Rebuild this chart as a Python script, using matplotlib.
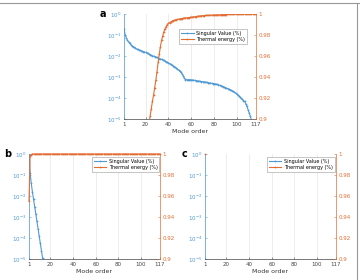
import matplotlib
matplotlib.use("Agg")
import matplotlib.pyplot as plt
import numpy as np

BLUE = "#4e9ad6"
ORANGE = "#e36d33"

# ---- panel a ----
sv_a_modes = list(range(1, 118))
sv_a_log10 = [
    -0.70, -0.98, -1.14, -1.25, -1.33, -1.40, -1.46, -1.51, -1.55, -1.59,
    -1.62, -1.66, -1.69, -1.71, -1.73, -1.75, -1.77, -1.79, -1.81, -1.83,
    -1.85, -1.88, -1.91, -1.94, -1.97, -1.99, -2.01, -2.03, -2.05, -2.07,
    -2.09, -2.12, -2.14, -2.16, -2.19, -2.21, -2.24, -2.27, -2.30, -2.33,
    -2.36, -2.39, -2.43, -2.46, -2.50, -2.54, -2.58, -2.62, -2.67, -2.72,
    -2.78, -2.85, -2.93, -3.05, -3.12, -3.13, -3.13, -3.13, -3.13, -3.14,
    -3.14, -3.15, -3.16, -3.17, -3.18, -3.19, -3.20, -3.21, -3.22, -3.22,
    -3.23, -3.24, -3.25, -3.26, -3.27, -3.28, -3.29, -3.30, -3.31, -3.32,
    -3.33, -3.34, -3.35, -3.37, -3.39, -3.41, -3.43, -3.46, -3.48, -3.50,
    -3.53, -3.55, -3.57, -3.60, -3.63, -3.66, -3.69, -3.72, -3.76, -3.81,
    -3.86, -3.91, -3.97, -4.02, -4.07, -4.12, -4.16, -4.28, -4.40, -4.55,
    -4.71, -4.88, -5.05, -5.30, -5.60, -5.90, -6.20,
]
te_a_modes = list(range(21, 118))
te_a = [
    0.884, 0.890, 0.896, 0.903, 0.910, 0.917, 0.923, 0.930, 0.937, 0.945,
    0.954, 0.962, 0.969, 0.975, 0.979, 0.983, 0.986, 0.988, 0.990, 0.9910,
    0.9918, 0.9925, 0.9931, 0.9936, 0.9940, 0.9943, 0.9946, 0.9949, 0.9951, 0.9953,
    0.9955, 0.9957, 0.9959, 0.9961, 0.9963, 0.9964, 0.9965, 0.9966, 0.9968, 0.9969,
    0.9971, 0.9972, 0.9974, 0.9975, 0.9977, 0.9978, 0.9980, 0.9981, 0.9983, 0.9984,
    0.9985, 0.9986, 0.9987, 0.9987, 0.9988, 0.9988, 0.9989, 0.9989, 0.9990, 0.9990,
    0.9991, 0.9991, 0.9992, 0.9992, 0.9993, 0.9993, 0.9994, 0.9994, 0.9995, 0.9995,
    0.9995, 0.9996, 0.9996, 0.9996, 0.9997, 0.9997, 0.9997, 0.9998, 0.9998, 0.9998,
    0.9998, 0.9999, 0.9999, 0.9999, 0.9999, 0.9999, 1.0, 1.0, 1.0, 1.0,
    1.0, 1.0, 1.0, 1.0, 1.0, 1.0, 1.0,
]

# ---- panel b ----
sv_b_modes = list(range(1, 16))
sv_b_log10 = [0.0, -0.9, -1.4, -1.8, -2.15, -2.5, -2.85, -3.2, -3.55, -3.9,
              -4.25, -4.6, -4.95, -5.3, -5.65]
te_b_modes = list(range(1, 118))
te_b = [0.955, 0.998, 0.9995] + [1.0] * 114

# ---- panel c ----
sv_c_modes = [1]
sv_c = [1.0]
te_c_modes = [1]
te_c = [1.0]

xticks = [1, 20, 40, 60, 80, 100, 117]
left_ticks = [1e0, 1e-1, 1e-2, 1e-3, 1e-4, 1e-5]
left_labels = ["$10^{0}$", "$10^{-1}$", "$10^{-2}$", "$10^{-3}$", "$10^{-4}$", "$10^{-5}$"]
right_ticks = [0.9, 0.92, 0.94, 0.96, 0.98, 1.0]
right_labels = ["0.9", "0.92", "0.94", "0.96", "0.98", "1"]

FS = 4


def panel(fig, rect, sv_x, sv_y, te_x, te_y, letter, leg_anchor, te_clip=True):
    ax = fig.add_axes(rect)
    ax.set_yscale("log")
    l1, = ax.plot(sv_x, sv_y, "-", color=BLUE, lw=0.8, marker="+", ms=1.6, mew=0.5)
    ax.set_xlim(1, 117)
    ax.set_ylim(1e-5, 1e0)
    ax.set_xticks(xticks)
    ax.set_yticks(left_ticks)
    ax.set_yticklabels(left_labels)
    ax.minorticks_off()
    ax.xaxis.grid(True, color="#e6e6e6", lw=0.5)
    ax.tick_params(axis="x", labelsize=FS, direction="in", length=1.5, width=0.4, pad=2, colors="#444444")
    ax.tick_params(axis="y", labelsize=FS, direction="in", length=1.5, width=0.4, pad=2, colors=BLUE)
    ax.set_xlabel("Mode order", fontsize=4.5, labelpad=1.5, color="#333333")
    ax.spines["top"].set_visible(False)
    ax.spines["right"].set_visible(False)
    ax.spines["left"].set_color(BLUE)
    ax.spines["bottom"].set_color("#444444")
    for s in ax.spines.values():
        s.set_linewidth(0.5)

    ax2 = ax.twinx()
    l2, = ax2.plot(te_x, te_y, "-", color=ORANGE, lw=0.8, marker="+", ms=1.6, mew=0.5,
                   clip_on=te_clip)
    ax2.set_ylim(0.9, 1.0)
    ax2.set_yticks(right_ticks)
    ax2.set_yticklabels(right_labels)
    ax2.tick_params(axis="y", labelsize=FS, direction="in", length=1.5, width=0.4, pad=2, colors=ORANGE)
    ax2.spines["top"].set_visible(False)
    ax2.spines["left"].set_visible(False)
    ax2.spines["bottom"].set_visible(False)
    ax2.spines["right"].set_color(ORANGE)
    ax2.spines["right"].set_linewidth(0.5)

    leg = ax2.legend([l1, l2], ["Singular Value (%)", "Thermal energy (%)"],
                     loc="upper right", bbox_to_anchor=leg_anchor, fontsize=3.5,
                     fancybox=False, framealpha=1, borderpad=0.4, handlelength=2.5,
                     labelspacing=0.2, handletextpad=0.5, borderaxespad=0)
    leg.get_frame().set_linewidth(0.4)
    leg.get_frame().set_edgecolor("#999999")

    fig.text(rect[0] - 0.058, rect[1] + rect[3], letter, fontsize=7, fontweight="bold",
             ha="center", va="center")
    return ax


fig = plt.figure(figsize=(3.6, 2.8), dpi=100)

sv_a = [10 ** v for v in sv_a_log10]
sv_b = [10 ** v for v in sv_b_log10]

panel(fig, [124 / 360, 1 - 119 / 280, 132 / 360, 105 / 280],
      sv_a_modes, sv_a, te_a_modes, te_a, "a", (0.93, 0.86))
panel(fig, [29 / 360, 1 - 259 / 280, 131 / 360, 105 / 280],
      sv_b_modes, sv_b, te_b_modes, te_b, "b", (0.995, 0.97), te_clip=False)
panel(fig, [205 / 360, 1 - 259 / 280, 131 / 360, 105 / 280],
      sv_c_modes, sv_c, te_c_modes, te_c, "c", (0.99, 0.97), te_clip=False)

# thin frame lines seen at the image edges
fig.add_artist(plt.Line2D([0, 1], [1 - 3 / 280, 1 - 3 / 280], color="#999999", lw=0.8))
fig.add_artist(plt.Line2D([357 / 360, 357 / 360], [0, 1 - 3 / 280], color="#999999", lw=0.8))

fig.savefig("out.png", dpi=100)
